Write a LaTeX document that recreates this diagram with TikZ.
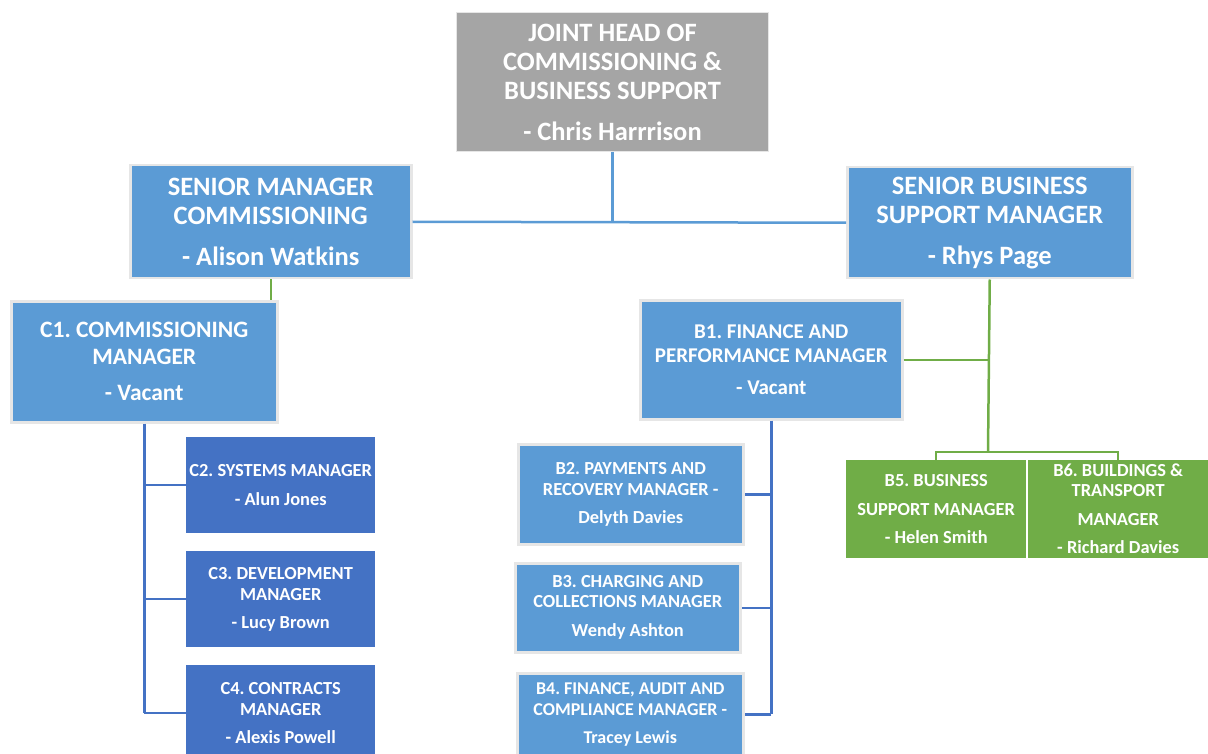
\documentclass[tikz,border=0pt]{standalone}
\usepackage{fontspec}
\setmainfont{Carlito}
\frenchspacing
\definecolor{hgray}{HTML}{A5A5A5}
\definecolor{lblue}{HTML}{5B9BD5}
\definecolor{dblue}{HTML}{4472C4}
\definecolor{ogreen}{HTML}{70AD47}
\definecolor{bord}{HTML}{E6E6E6}
\newcommand{\fsz}[2]{\bfseries\frenchspacing\fontsize{#1}{#2}\selectfont}
\tikzset{
  box/.style={rectangle, anchor=north west, inner sep=0pt, align=center, text=white},
  lbox/.style={box, fill=lblue, draw=bord, line width=2.5pt},
  dbox/.style={box, fill=dblue},
  gbox/.style={box, fill=ogreen},
  bl/.style={draw=lblue, line width=2.5pt},
  db/.style={draw=dblue, line width=2.5pt},
  gr/.style={draw=ogreen, line width=2.5pt},
}
\begin{document}
\begin{tikzpicture}[x=1pt,y=-1pt]
\useasboundingbox (0,0) rectangle (1208,754);
% top
\node[box, fill=hgray, draw=bord, line width=1pt, minimum width=312pt, minimum height=139pt, font=\fsz{26.5}{29}] (top) at (456,12)
  {JOINT HEAD OF\\COMMISSIONING \&\\BUSINESS SUPPORT\\[12pt]- Chris Harrrison};
\node[lbox, minimum width=281pt, minimum height=113pt, font=\fsz{26.5}{29}] (smc) at (129,164)
  {SENIOR MANAGER\\COMMISSIONING\\[12pt]- Alison Watkins};
\node[lbox, minimum width=285pt, minimum height=111pt, font=\fsz{26.5}{29}] (sbs) at (846,166)
  {SENIOR BUSINESS\\SUPPORT MANAGER\\[12pt]- Rhys Page};
% commissioning
\node[lbox, minimum width=266pt, minimum height=121pt, font=\fsz{23.5}{27}] (c1) at (10,300)
  {C1. COMMISSIONING\\MANAGER\\[9pt]- Vacant};
\node[dbox, minimum width=189pt, minimum height=96pt, font=\fsz{18.4}{29}] (c2) at (186,437)
  {C2. SYSTEMS MANAGER\\- Alun Jones};
\node[dbox, minimum width=189pt, minimum height=96pt, font=\fsz{18.4}{21}] (c3) at (186,551)
  {C3. DEVELOPMENT\\MANAGER\\[7pt]- Lucy Brown};
\node[dbox, minimum width=189pt, minimum height=96pt, font=\fsz{18.4}{21}] (c4) at (186,665)
  {C4. CONTRACTS\\MANAGER\\[7pt]- Alexis Powell};
% business support
\node[lbox, minimum width=262pt, minimum height=119pt, font=\fsz{21}{24}] (b1) at (639,299)
  {B1. FINANCE AND\\PERFORMANCE MANAGER\\[8pt]- Vacant};
\node[lbox, minimum width=225pt, minimum height=100pt, font=\fsz{18.4}{21}] (b2) at (517,443)
  {B2. PAYMENTS AND\\RECOVERY MANAGER -\\[7pt]Delyth Davies};
\node[lbox, minimum width=225pt, minimum height=89pt, font=\fsz{18.4}{20}] (b3) at (514,562)
  {B3. CHARGING AND\\COLLECTIONS MANAGER\\[9pt]Wendy Ashton};
\node[lbox, minimum width=226pt, minimum height=82pt, font=\fsz{18}{21}] (b4) at (516,672)
  {B4. FINANCE, AUDIT AND\\COMPLIANCE MANAGER -\\[7pt]Tracey Lewis};
\node[gbox, minimum width=180pt, minimum height=98pt, font=\fsz{18.4}{28.5}] (b5) at (846,460)
  {B5. BUSINESS\\SUPPORT MANAGER\\- Helen Smith};
\node[gbox, minimum width=180pt, minimum height=98pt, font=\fsz{18.4}{20}] (b6) at (1028,460)
  {B6. BUILDINGS \&\\TRANSPORT\\[9pt]MANAGER\\[8pt]- Richard Davies};
% connectors
\draw[bl] (top.south) -- (top.south |- smc.east);
\draw[bl] (smc.east) -- (sbs.west);
\draw[gr] (smc.south) -- (smc.south |- c1.north);
\draw[db] (c1.south) -- (c1.south |- c4.west);
\draw[db] (c1.south |- c2.west) -- (c2.west);
\draw[db] (c1.south |- c3.west) -- (c3.west);
\draw[db] (c1.south |- c4.west) -- (c4.west);
\draw[db] (b1.south) -- (b1.south |- b4.east);
\draw[db] (b1.south |- b2.east) -- (b2.east);
\draw[db] (b1.south |- b3.east) -- (b3.east);
\draw[db] (b1.south |- b4.east) -- (b4.east);
\coordinate (gj) at (988,452);
\draw[gr] (sbs.south) -- (gj);
\draw[gr] (b1.east) -- (b1.east -| gj);
\draw[gr, line width=2pt] (b5.north) |- (gj) -| (b6.north);
\end{tikzpicture}
\end{document}
